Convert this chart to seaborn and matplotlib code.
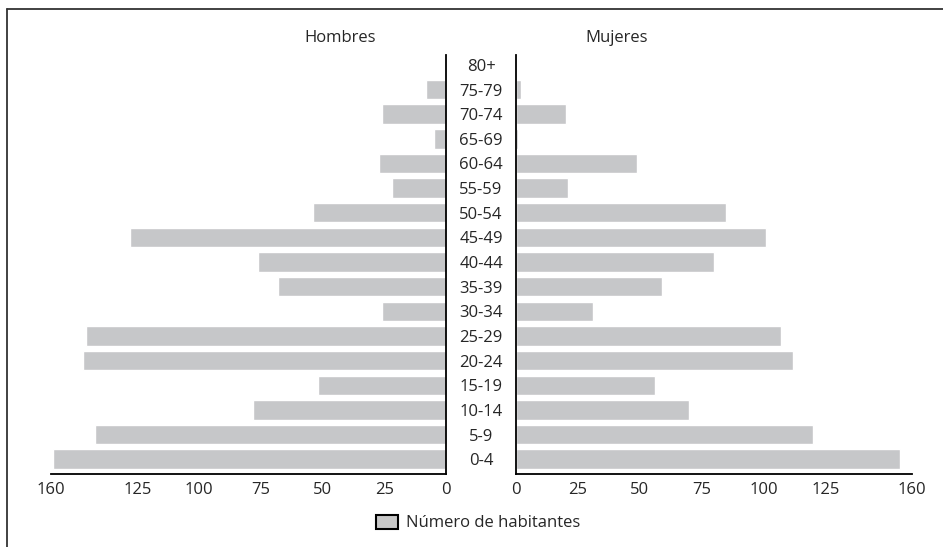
import matplotlib
matplotlib.use('Agg')
import matplotlib.pyplot as plt
import seaborn as sns
from matplotlib.patches import Patch
from matplotlib.lines import Line2D

# Datos de la pirámide de población (de arriba hacia abajo)
edades = ['80+', '75-79', '70-74', '65-69', '60-64', '55-59', '50-54', '45-49', '40-44',
          '35-39', '30-34', '25-29', '20-24', '15-19', '10-14', '5-9', '0-4']
hombres = [0, 8, 26, 5, 27, 22, 54, 128, 76, 68, 26, 146, 147, 52, 78, 142, 159]
mujeres = [0, 2, 20, 1, 49, 21, 85, 101, 80, 59, 31, 107, 112, 56, 70, 120, 155]
ticks = [0, 25, 50, 75, 100, 125, 160]

sns.set_style('white')
plt.rcParams['font.family'] = ['Open Sans', 'DejaVu Sans']
gris = '#c6c7c9'
texto = '#262626'
fs = 12

fig = plt.figure(figsize=(9.43, 5.47), dpi=100)
W, H = 943, 547

def caja(x0, x1, y_top, y_bot):
    return [x0 / W, 1 - y_bot / H, (x1 - x0) / W, (y_bot - y_top) / H]

ax_h = fig.add_axes(caja(51, 446, 55, 474))
ax_m = fig.add_axes(caja(516, 912, 55, 474))

sns.barplot(x=hombres, y=edades, orient='h', color=gris, saturation=1,
            width=0.79, ax=ax_h)
sns.barplot(x=mujeres, y=edades, orient='h', color=gris, saturation=1,
            width=0.79, ax=ax_m)

for ax in (ax_h, ax_m):
    ax.set_ylim(16.6, -0.4)
    ax.set_xlabel('')
    ax.set_ylabel('')
    ax.set_xticks(ticks)
    ax.set_xticklabels([str(t) for t in ticks])
    ax.tick_params(axis='x', direction='in', length=6, width=1, color='black',
                   pad=6, labelsize=fs, labelcolor=texto)
    ax.spines['bottom'].set_linewidth(1.3)
    ax.spines['bottom'].set_color('black')
    ax.spines['top'].set_visible(False)

ax_h.set_xlim(160, 0)
ax_m.set_xlim(0, 160)

ax_h.spines['left'].set_visible(False)
ax_h.spines['right'].set_visible(True)
ax_h.spines['right'].set_linewidth(1.3)
ax_h.spines['right'].set_color('black')
ax_m.spines['right'].set_visible(False)
ax_m.spines['left'].set_linewidth(1.3)
ax_m.spines['left'].set_color('black')

# etiquetas de edad centradas entre los dos ejes
ax_h.yaxis.tick_right()
ax_h.tick_params(axis='y', length=0, pad=25.2, labelsize=fs, labelcolor=texto,
                 labelleft=False, labelright=True)
for lab in ax_h.get_yticklabels():
    lab.set_horizontalalignment('center')
ax_m.tick_params(axis='y', length=0, labelleft=False)

fig.text(340 / W, 1 - 38 / H, 'Hombres', ha='center', va='center', fontsize=fs, color=texto)
fig.text(617 / W, 1 - 38 / H, 'Mujeres', ha='center', va='center', fontsize=fs, color=texto)

fig.legend(handles=[Patch(facecolor='#c8c8c8', edgecolor='black', linewidth=1.5,
                          label='Número de habitantes')],
           loc='center', bbox_to_anchor=(478 / W, 1 - 523 / H), frameon=False,
           fontsize=fs, handlelength=1.3, handleheight=0.9, handletextpad=0.5,
           labelcolor=texto)

# marco recortado (solo arriba e izquierda)
fig.add_artist(Line2D([7 / W, 7 / W], [0, 1 - 9 / H], color='#333333', lw=1.3))
fig.add_artist(Line2D([7 / W, 1], [1 - 9 / H, 1 - 9 / H], color='#333333', lw=1.3))

fig.savefig('out.png', dpi=100)
